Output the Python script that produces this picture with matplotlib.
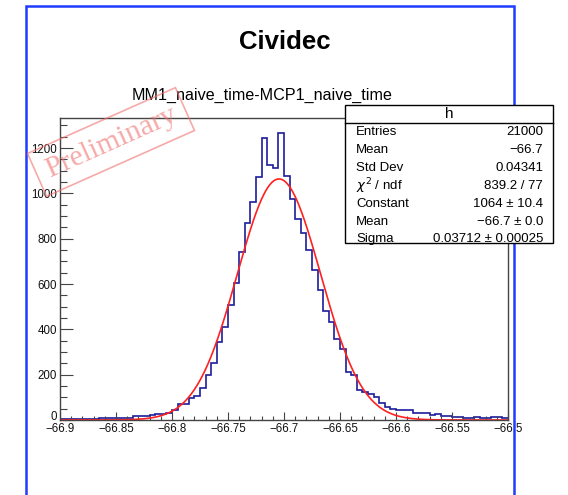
import matplotlib
matplotlib.use("Agg")
import matplotlib.pyplot as plt
from matplotlib.patches import Rectangle
from matplotlib.ticker import MultipleLocator
from matplotlib.transforms import ScaledTranslation
import numpy as np

plt.rcParams['font.family'] = ['Liberation Sans', 'DejaVu Sans']

# === DATA ===
x_lo, x_hi, n_bins = -66.9, -66.5, 80
counts = [
    3, 4, 3, 5, 4, 5, 6, 7, 8, 7,
    9, 8, 10, 17, 19, 19, 20, 26, 27, 29,
    44, 70, 70, 95, 105, 140, 197, 253, 346, 409,
    506, 603, 743, 871, 962, 1071, 1243, 1126, 1114, 1268,
    1077, 974, 886, 827, 750, 662, 574, 481, 434, 356,
    312, 213, 200, 132, 125, 113, 103, 74, 56, 49,
    44, 44, 44, 29, 29, 29, 22, 25, 18, 18,
    12, 12, 8, 8, 12, 8, 8, 12, 12, 8,
]
fit_const, fit_mean, fit_sigma = 1064.0, -66.7045, 0.03712

x_ticks = [-66.9, -66.85, -66.8, -66.75, -66.7, -66.65, -66.6, -66.55, -66.5]
x_tick_labels = ["\u221266.9", "\u221266.85", "\u221266.8", "\u221266.75", "\u221266.7",
                 "\u221266.65", "\u221266.6", "\u221266.55", "\u221266.5"]
y_ticks = [0, 200, 400, 600, 800, 1000, 1200]

stats_names = ["Entries", "Mean", "Std Dev", "$\\chi^2$ / ndf", "Constant", "Mean", "Sigma"]
stats_values = ["21000", "\u221266.7", "0.04341", "839.2 / 77", "1064 \u00b1 10.4",
                "\u221266.7 \u00b1 0.0", "0.03712 \u00b1 0.00025"]

W, H = 568, 495


def fx(px):
    return px / W


def fy(py):
    return 1 - py / H


# === FIGURE ===
fig = plt.figure(figsize=(W / 100, H / 100), dpi=100)
fig.patch.set_facecolor("white")

ax = fig.add_axes([fx(60), fy(420), (508 - 60) / W, (420 - 118) / H])

edges = np.linspace(x_lo, x_hi, n_bins + 1)
ax.stairs(counts, edges, color="#1c1c9c", lw=1.2, baseline=None)

xf = np.linspace(x_lo, x_hi, 800)
yf = fit_const * np.exp(-0.5 * ((xf - fit_mean) / fit_sigma) ** 2)
ax.plot(xf, yf, color="#ff2020", lw=1.2)

ax.set_xlim(x_lo, x_hi)
ax.set_ylim(0, 1333)

ax.set_xticks(x_ticks)
ax.set_xticklabels(x_tick_labels)
ax.set_yticks(y_ticks)
ax.xaxis.set_minor_locator(MultipleLocator(0.01))
ax.yaxis.set_minor_locator(MultipleLocator(50))

axis_grey = "#444444"
ax.tick_params(axis="x", which="major", direction="in", length=5.8, width=0.8,
               color=axis_grey, labelsize=8.3, pad=2.5, labelcolor="#111111")
ax.tick_params(axis="x", which="minor", direction="in", length=3.2, width=0.8, color=axis_grey)
ax.tick_params(axis="y", which="major", direction="in", length=9.4, width=0.8,
               color=axis_grey, labelsize=8.3, pad=2, labelcolor="#111111")
ax.tick_params(axis="y", which="minor", direction="in", length=5, width=0.8, color=axis_grey)
for s in ax.spines.values():
    s.set_color(axis_grey)
    s.set_linewidth(1.0)

# lift the "0" label a touch so it clears the first x label
zero_lbl = ax.yaxis.get_major_ticks()[0].label1
zero_lbl.set_transform(zero_lbl.get_transform() + ScaledTranslation(0, 3 / 72, fig.dpi_scale_trans))

# === TITLES ===
fig.text(fx(285), fy(42), "Cividec", ha="center", va="center",
         fontsize=18.5, fontweight="bold")
fig.text(fx(262), fy(95), "MM1_naive_time-MCP1_naive_time", ha="center", va="center",
         fontsize=11.6)

# === PRELIMINARY STAMP ===
fig.text(fx(111), fy(142), "Preliminary", ha="center", va="center", rotation=24,
         fontsize=21.5, family="Liberation Serif", color="#f07070", alpha=0.6,
         bbox=dict(boxstyle="square,pad=0.35", fc="none", ec="#f07070", lw=1.2, alpha=0.6))

# === OUTER FRAME ===
fig.add_artist(Rectangle((fx(26), fy(520)), (514 - 26) / W, (520 - 6) / H,
                         transform=fig.transFigure, fc="none", ec="#1f3cff", lw=1.8,
                         clip_on=False, zorder=1))

# === STATS BOX ===
bx0, bx1, by0, by1 = 345, 553, 105, 243
fig.add_artist(Rectangle((fx(bx0), fy(by1)), (bx1 - bx0) / W, (by1 - by0) / H,
                         transform=fig.transFigure, fc="white", ec="black", lw=1.0,
                         zorder=5))
fig.add_artist(plt.Line2D([fx(bx0), fx(bx1)], [fy(123), fy(123)],
                          transform=fig.transFigure, color="black", lw=1.0, zorder=6))
fig.text(fx((bx0 + bx1) / 2), fy(114), "h", ha="center", va="center", fontsize=11, zorder=7)
row_y = [132, 150, 168, 186, 204, 222, 239]
for name, val, ry in zip(stats_names, stats_values, row_y):
    fig.text(fx(356), fy(ry), name, ha="left", va="center", fontsize=9.5, zorder=7)
    fig.text(fx(543), fy(ry), val, ha="right", va="center", fontsize=9.5, zorder=7)

fig.savefig("out.png", dpi=100)
